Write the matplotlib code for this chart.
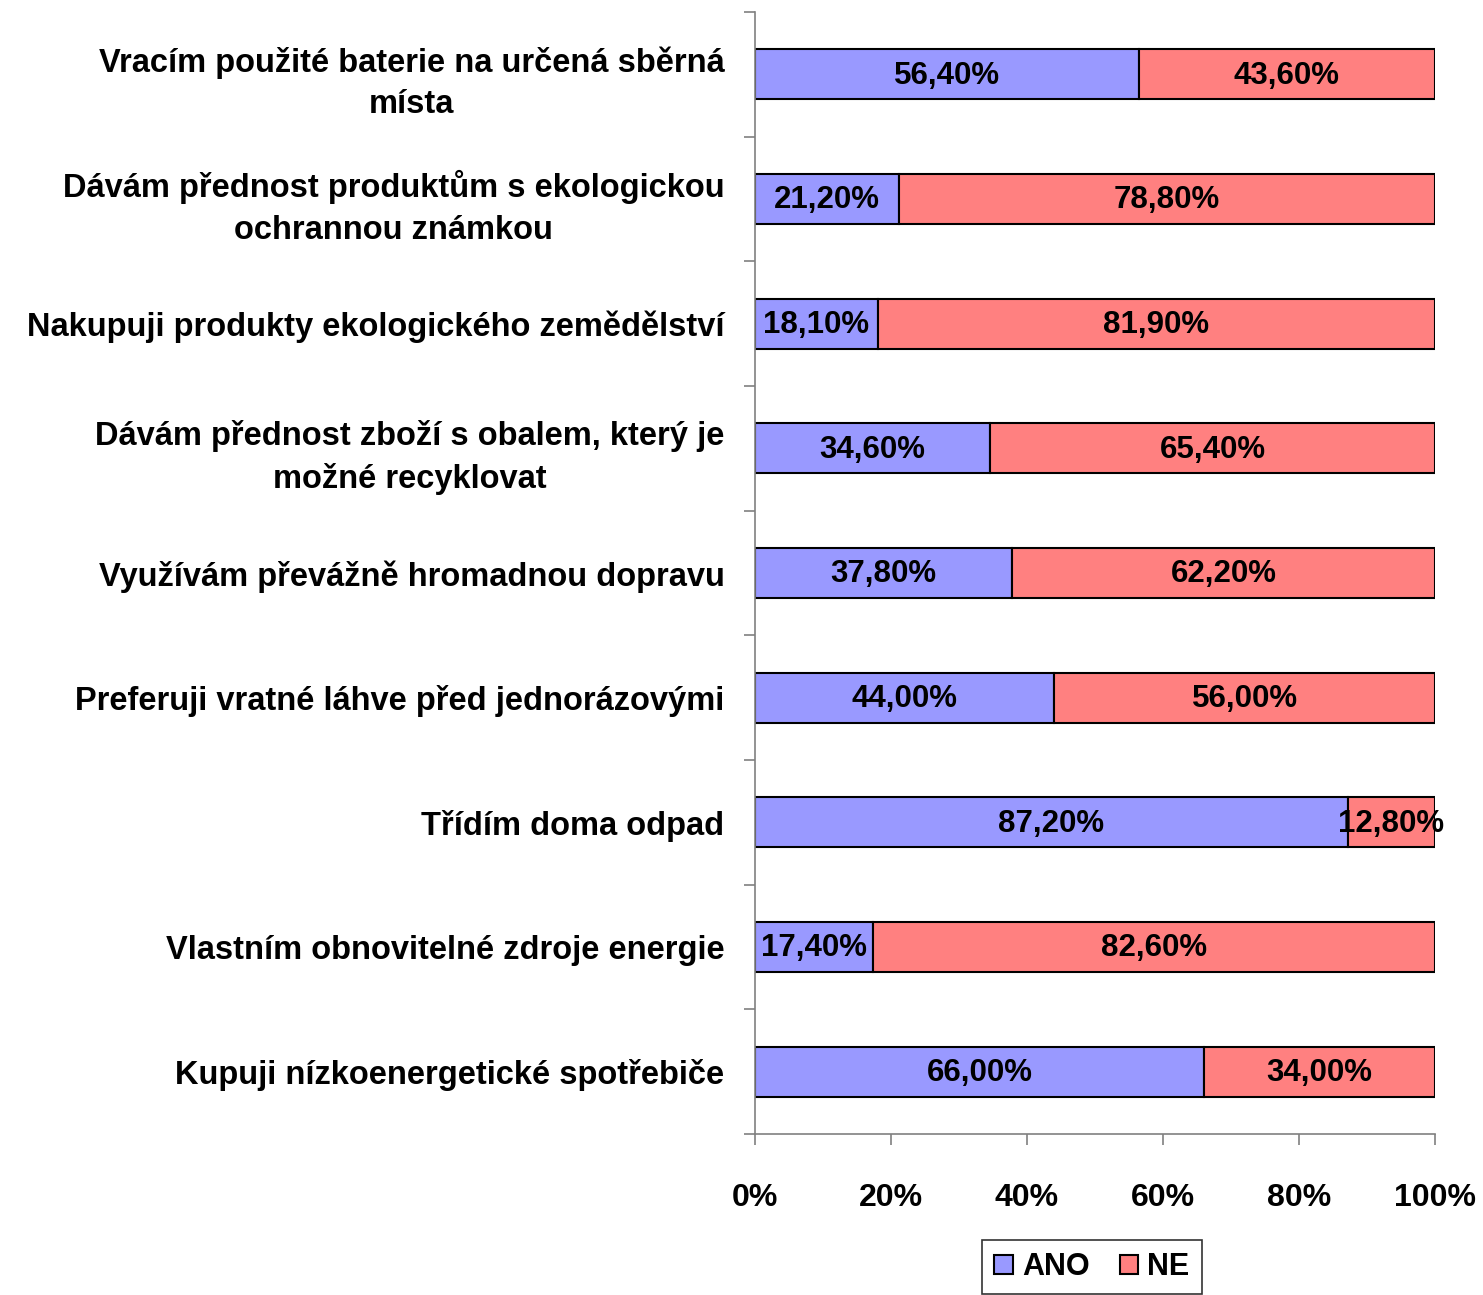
import matplotlib.pyplot as plt
import numpy as np

plt.rcParams['font.family'] = ['Liberation Sans', 'DejaVu Sans']
plt.rcParams['font.weight'] = 'bold'

# data
categories = [
    "Vracím použité baterie na určená sběrná\nmísta",
    "Dávám přednost produktům s ekologickou\nochrannou známkou",
    "Nakupuji produkty ekologického zemědělství",
    "Dávám přednost zboží s obalem, který je\nmožné recyklovat",
    "Využívám převážně hromadnou dopravu",
    "Preferuji vratné láhve před jednorázovými",
    "Třídím doma odpad",
    "Vlastním obnovitelné zdroje energie",
    "Kupuji nízkoenergetické spotřebiče",
]
ano = [56.4, 21.2, 18.1, 34.6, 37.8, 44.0, 87.2, 17.4, 66.0]
ne = [43.6, 78.8, 81.9, 65.4, 62.2, 56.0, 12.8, 82.6, 34.0]
series_names = ["ANO", "NE"]
colors = ["#9999FF", "#FF8080"]
xticks = [0, 20, 40, 60, 80, 100]

fig = plt.figure(figsize=(14.83, 12.95), dpi=100)
ax = fig.add_axes([755 / 1483, 1 - 1134 / 1295, 680 / 1483, 1122 / 1295])

y = np.arange(len(categories))
b1 = ax.barh(y, ano, height=0.4, color=colors[0], edgecolor='black', linewidth=1.5, label=series_names[0])
b2 = ax.barh(y, ne, left=ano, height=0.4, color=colors[1], edgecolor='black', linewidth=1.5, label=series_names[1])

def fmt(v):
    return ("%.2f%%" % v).replace('.', ',')

for bars, vals in ((b1, ano), (b2, ne)):
    for bar, v in zip(bars, vals):
        cx = bar.get_x() + bar.get_width() / 2
        cy = bar.get_y() + bar.get_height() / 2
        ax.text(cx, cy + 0.01, fmt(v), ha='center', va='center', fontsize=22.5, fontweight='bold', color='black')

ax.set_xlim(0, 100)
ax.set_ylim(len(categories) - 0.5, -0.5)
ax.set_xticks(xticks)
ax.set_xticklabels([str(t) + '%' for t in xticks])
ax.set_yticks(y)
ax.set_yticklabels(categories)
ax.set_yticks(np.arange(len(categories) + 1) - 0.5, minor=True)
for lab in ax.get_yticklabels():
    lab.set_multialignment('center')
    lab.set_linespacing(1.44)

ax.tick_params(axis='y', which='major', length=0, pad=22, labelsize=23.5)
ax.tick_params(axis='y', which='minor', length=8, width=1.2, color='gray', direction='out')
ax.tick_params(axis='x', length=8, width=1.2, color='gray', direction='out', pad=27, labelsize=23)

for side in ['top', 'right']:
    ax.spines[side].set_visible(False)
for side in ['left', 'bottom']:
    ax.spines[side].set_color('gray')
    ax.spines[side].set_linewidth(1.2)

leg = fig.legend(loc='upper center', bbox_to_anchor=(1092 / 1483, 1 - 1240 / 1295), ncol=2,
                 fontsize=22, frameon=True, fancybox=False, edgecolor='black',
                 handlelength=0.6, handleheight=0.6, handletextpad=0.3, columnspacing=1.0,
                 borderpad=0.4, borderaxespad=0)
leg.get_frame().set_linewidth(1.2)

fig.savefig('out.png', dpi=100)
